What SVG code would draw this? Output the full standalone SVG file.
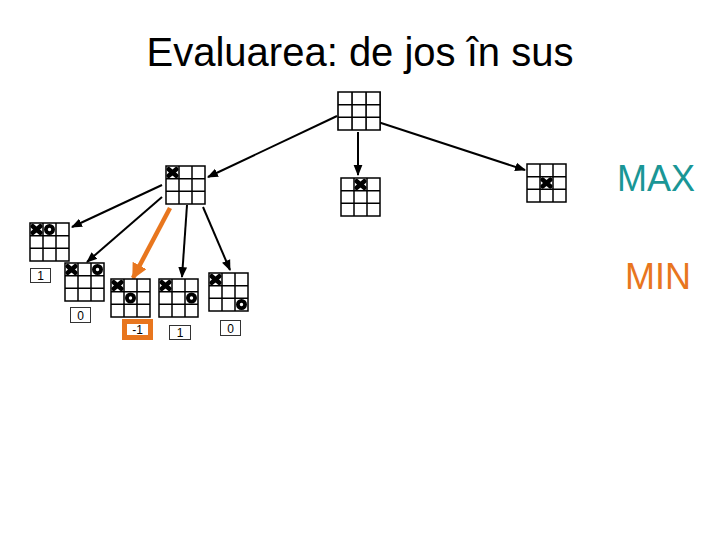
<svg xmlns="http://www.w3.org/2000/svg" xmlns:xlink="http://www.w3.org/1999/xlink" width="720" height="540" viewBox="0 0 720 540">
<style>
.gl{fill:#fff;stroke:#000;stroke-width:1.5}
.x{stroke:#000;stroke-width:4.5;stroke-linecap:round}
.o{fill:#fff;stroke:#000;stroke-width:3.8}
.c{stroke:#000;stroke-width:2;fill:none}
.co{stroke:#e8761e;stroke-width:4.5;fill:none}
.lb{fill:#fff;stroke:#333;stroke-width:1}
.lt{font-family:"Liberation Sans",Arial,sans-serif;font-size:12px;fill:#000;text-anchor:middle}
.big{font-family:"Liberation Sans",Arial,sans-serif}
</style>
<defs>
<g id="grid">
<rect class="gl" x="0" y="0" width="39" height="38"/>
<path class="gl" d="M13 0V38M26 0V38M0 12.67H39M0 25.33H39"/>
</g>
<g id="X"><path class="x" d="M-3.8 -3.3L3.8 3.3M-3.8 3.3L3.8 -3.3"/></g>
<g id="O"><circle class="o" cx="0" cy="0" r="3.6"/></g>
<marker id="ah" viewBox="0 0 10 10" refX="9" refY="5" markerWidth="5.5" markerHeight="5.5" orient="auto" markerUnits="strokeWidth"><path d="M0 1L10 5L0 9z" fill="#000"/></marker>
<marker id="aho" viewBox="0 0 10 10" refX="9" refY="5" markerWidth="3.5" markerHeight="3.5" orient="auto" markerUnits="strokeWidth"><path d="M0 0L10 5L0 10z" fill="#e8761e"/></marker>
</defs>
<rect width="720" height="540" fill="#fff"/>
<text class="big" x="360" y="66" text-anchor="middle" font-size="40" fill="#000">Evaluarea: de jos în sus</text>
<text class="big" x="656" y="191" text-anchor="middle" font-size="36" fill="#1a9696">MAX</text>
<text class="big" x="658" y="289" text-anchor="middle" font-size="36" fill="#e8761e">MIN</text>
<g id="connectors">
<line class="c" x1="337" y1="116" x2="208" y2="177" marker-end="url(#ah)"/>
<line class="c" x1="358" y1="132" x2="358" y2="175" marker-end="url(#ah)"/>
<line class="c" x1="378" y1="122" x2="525" y2="170" marker-end="url(#ah)"/>
<line class="c" x1="162" y1="185" x2="72" y2="227" marker-end="url(#ah)"/>
<line class="c" x1="162" y1="197" x2="87" y2="262" marker-end="url(#ah)"/>
<line class="co" x1="170" y1="208" x2="133" y2="278" marker-end="url(#aho)"/>
<line class="c" x1="187" y1="205" x2="182" y2="277" marker-end="url(#ah)"/>
<line class="c" x1="203" y1="207" x2="230" y2="270" marker-end="url(#ah)"/>
</g>
<g id="root"><use xlink:href="#grid" transform="translate(338,92) scale(1.08,1)"/></g>
<g id="n1"><use xlink:href="#grid" x="166" y="166"/><use xlink:href="#X" x="172.5" y="172.5"/></g>
<g id="n2"><use xlink:href="#grid" x="341" y="178"/><use xlink:href="#X" x="360.5" y="184.5"/></g>
<g id="n3"><use xlink:href="#grid" x="527" y="164"/><use xlink:href="#X" x="546.5" y="183"/></g>
<g id="n11"><use xlink:href="#grid" x="30" y="223"/><use xlink:href="#X" x="36.5" y="229.5"/><use xlink:href="#O" x="49.5" y="229.5"/></g>
<g id="n12"><use xlink:href="#grid" x="65" y="263"/><use xlink:href="#X" x="71.5" y="269.5"/><use xlink:href="#O" x="97.5" y="269.5"/></g>
<g id="n13"><use xlink:href="#grid" x="111" y="279"/><use xlink:href="#X" x="117.5" y="285.5"/><use xlink:href="#O" x="130.5" y="298"/></g>
<g id="n14"><use xlink:href="#grid" x="159" y="279"/><use xlink:href="#X" x="165.5" y="285.5"/><use xlink:href="#O" x="191.5" y="298"/></g>
<g id="n15"><use xlink:href="#grid" x="209" y="273"/><use xlink:href="#X" x="215.5" y="279.5"/><use xlink:href="#O" x="241.5" y="304.5"/></g>
<g id="v12"><rect class="lb" x="30.5" y="268.5" width="20" height="14"/><text class="lt" x="40.5" y="280">1</text></g>
<g id="v121"><rect class="lb" x="70.5" y="307.5" width="20" height="15"/><text class="lt" x="80.5" y="319.5">0</text></g>
<g id="v13"><rect x="124.5" y="321.5" width="26" height="16" fill="#fff" stroke="#e8761e" stroke-width="5"/><text class="lt" x="137.5" y="334">-1</text></g>
<g id="v14"><rect class="lb" x="169.5" y="325.5" width="21" height="14"/><text class="lt" x="180" y="337">1</text></g>
<g id="v15"><rect class="lb" x="220.5" y="320.5" width="20" height="15"/><text class="lt" x="230.5" y="332.5">0</text></g>
</svg>
